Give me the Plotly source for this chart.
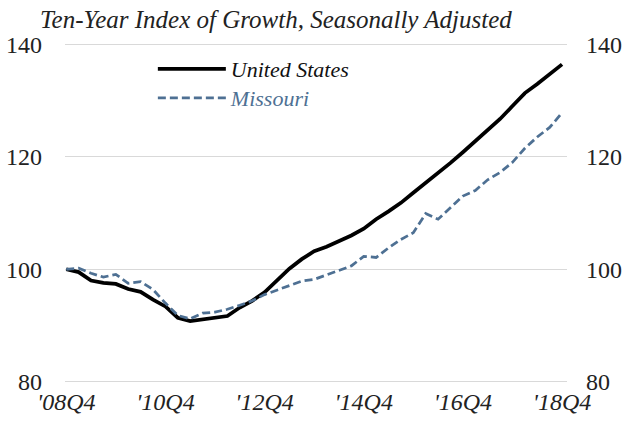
import plotly.graph_objects as go

# Quarterly periods 2008Q4 .. 2018Q4
quarters = ["2008Q4"] + [f"{y}Q{q}" for y in range(2009, 2019) for q in range(1, 5)]

us_index = [100.0, 99.5, 98.0, 97.6, 97.4, 96.5, 96.0, 94.6, 93.4, 91.4,
            90.8, 91.1, 91.4, 91.7, 93.2, 94.4, 95.9, 98.0, 100.1, 101.8,
            103.2, 104.0, 105.0, 106.0, 107.2, 108.9, 110.3, 111.8, 113.6, 115.3,
            117.0, 118.9, 120.8, 122.7, 124.7, 126.7, 129.0, 131.3, 132.9, 134.7,
            136.4]

mo_index = [100.0, 100.2, 99.3, 98.6, 99.1, 97.5, 97.8, 96.4, 94.0, 91.8,
            91.2, 92.2, 92.4, 92.9, 93.6, 94.4, 95.5, 96.3, 97.2, 97.9,
            98.2, 99.0, 99.8, 100.6, 102.3, 102.1, 103.8, 105.3, 106.5, 109.9,
            108.9, 111.0, 113.0, 114.0, 115.9, 117.2, 119.0, 121.5, 123.5, 125.2,
            127.8]

tick_quarters = ["2008Q4", "2010Q4", "2012Q4", "2014Q4", "2016Q4", "2018Q4"]
tick_labels = ["'08Q4", "'10Q4", "'12Q4", "'14Q4", "'16Q4", "'18Q4"]
y_ticks = [80, 100, 120, 140]
title_text = "Ten-Year Index of Growth, Seasonally Adjusted"

US_COLOR = "#000000"
MO_COLOR = "#4E7093"
TXT = "#222222"
FONT = "Liberation Serif"

fig = go.Figure()
fig.add_trace(go.Scatter(
    x=quarters, y=us_index, mode="lines",
    name="<i>United States</i>", legend="legend",
    line=dict(color=US_COLOR, width=3.75),
))
fig.add_trace(go.Scatter(
    x=quarters, y=mo_index, mode="lines",
    name=f"<i><span style='color:{MO_COLOR}'>Missouri</span></i>", legend="legend2",
    line=dict(color=MO_COLOR, width=2.75, dash="8px,4px"),
))
# invisible copy to carry the right-hand axis
fig.add_trace(go.Scatter(
    x=quarters, y=us_index, mode="lines", yaxis="y2",
    line=dict(color="rgba(0,0,0,0)", width=0), showlegend=False, hoverinfo="skip",
))

yr = [79.8, 140.2]
legend_common = dict(
    xanchor="left", yanchor="top", bgcolor="rgba(0,0,0,0)", itemwidth=68,
    font=dict(family=FONT, size=22, color="#111111"),
)
fig.update_layout(
    width=629, height=430,
    margin=dict(l=65, r=62, t=43, b=47, autoexpand=False),
    paper_bgcolor="white", plot_bgcolor="white",
    font=dict(family=FONT, size=22, color=TXT),
    showlegend=True,
    legend=dict(x=0.175, y=0.985, **legend_common),
    legend2=dict(x=0.175, y=0.90, **legend_common),
    xaxis=dict(
        type="category", range=[-0.1, 40.4], automargin=False,
        tickmode="array", tickvals=tick_quarters,
        ticktext=[f"<i>{t}</i>" for t in tick_labels],
        showgrid=False, zeroline=False, showline=False,
        ticks="", ticklabelstandoff=2,
        tickfont=dict(family=FONT, size=24, color=TXT),
    ),
    yaxis=dict(
        range=yr, tickvals=y_ticks, automargin=False,
        showgrid=True, gridcolor="#D9D9D9", gridwidth=1.3,
        zeroline=False, showline=False, ticks="",
        ticklabelstandoff=22,
        tickfont=dict(family=FONT, size=24, color=TXT),
    ),
    yaxis2=dict(
        range=yr, tickvals=y_ticks, overlaying="y", side="right", automargin=False,
        showgrid=False, zeroline=False, showline=False, ticks="",
        ticklabelstandoff=18,
        tickfont=dict(family=FONT, size=24, color=TXT),
    ),
    annotations=[dict(
        text=f"<i>{title_text}</i>",
        xref="paper", yref="paper", x=-0.054, y=1.07,
        xanchor="left", yanchor="middle", showarrow=False,
        font=dict(family=FONT, size=25, color=TXT),
    )],
)

# remove the default 8px page margin so the figure sits at the window's corner
fig.write_html(
    "out.html",
    config={"displayModeBar": False},
    post_script="document.body.style.margin='0px';",
)
